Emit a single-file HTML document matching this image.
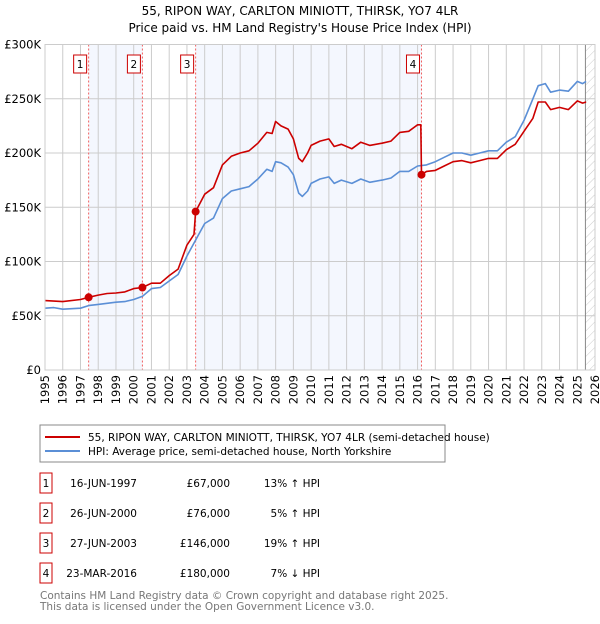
<!DOCTYPE html>
<html><head><meta charset="utf-8"><style>
body{margin:0;background:#fff;width:600px;height:620px;overflow:hidden;font-family:"DejaVu Sans","Liberation Sans",sans-serif;}
svg text{font-family:"DejaVu Sans","Liberation Sans",sans-serif;}
</style></head><body>
<svg id="c" width="600" height="620" xmlns="http://www.w3.org/2000/svg">
<defs><pattern id="hatch" width="6" height="6" patternUnits="userSpaceOnUse" patternTransform="rotate(45)"><line x1="0" y1="0" x2="0" y2="6" stroke="#ccc" stroke-width="1"/></pattern></defs>
<text x="300" y="15" text-anchor="middle" font-size="12">55, RIPON WAY, CARLTON MINIOTT, THIRSK, YO7 4LR</text>
<text x="300" y="32" text-anchor="middle" font-size="12">Price paid vs. HM Land Registry's House Price Index (HPI)</text>
<g id="plot"></g>
<rect x="40" y="425" width="405" height="37" fill="#fff" stroke="#888"/>
<line x1="45" y1="437" x2="80" y2="437" stroke="#cc0000" stroke-width="2"/>
<text x="88" y="441" font-size="10.5">55, RIPON WAY, CARLTON MINIOTT, THIRSK, YO7 4LR (semi-detached house)</text>
<line x1="45" y1="451" x2="80" y2="451" stroke="#5b8fd6" stroke-width="2"/>
<text x="88" y="455" font-size="10.5">HPI: Average price, semi-detached house, North Yorkshire</text>
<g id="table" font-size="10.5"></g>
<text x="40" y="599" font-size="10.5" fill="#777">Contains HM Land Registry data © Crown copyright and database right 2025.</text>
<text x="40" y="610" font-size="10.5" fill="#777">This data is licensed under the Open Government Licence v3.0.</text>
</svg>
<script>
const hpiYears=[1995,1995.5,1996,1996.5,1997,1997.5,1998,1998.5,1999,1999.5,2000,2000.5,2001,2001.5,2002,2002.5,2003,2003.5,2004,2004.5,2005,2005.5,2006,2006.5,2007,2007.5,2007.8,2008,2008.3,2008.7,2009,2009.3,2009.5,2009.8,2010,2010.5,2011,2011.3,2011.7,2012.3,2012.8,2013.3,2014,2014.5,2015,2015.5,2016,2016.5,2017,2017.5,2018,2018.5,2019,2019.5,2020,2020.5,2021,2021.5,2022,2022.5,2022.8,2023.2,2023.5,2024,2024.5,2025,2025.3,2025.5];
const hpiValues=[57,57.5,56,56.5,57,59.5,60.5,61.5,62.5,63,65,68,75,76,82,88,105,120,135,140,158,165,167,169,176,185,183,192,191,187,180,163,160,165,172,176,178,172,175,172,176,173,175,177,183,183,188,189,192,196,200,200,198,200,202,202,210,215,230,250,262,264,256,258,257,266,264,266];
const priceYears=[1995,1996,1997,1997.46,1998,1998.5,1999,1999.5,2000,2000.49,2001,2001.5,2002,2002.5,2003,2003.4,2003.49,2004,2004.5,2005,2005.5,2006,2006.5,2007,2007.5,2007.8,2008,2008.3,2008.7,2009,2009.3,2009.5,2009.8,2010,2010.5,2011,2011.3,2011.7,2012.3,2012.8,2013.3,2014,2014.5,2015,2015.5,2016,2016.18,2016.22,2016.5,2017,2017.5,2018,2018.5,2019,2019.5,2020,2020.5,2021,2021.5,2022,2022.5,2022.8,2023.2,2023.5,2024,2024.5,2025,2025.3,2025.5];
const priceValues=[64,63,65,67,69,70.5,71,72,75,76,80,80,87,93,115,125,146,162,168,189,197,200,202,209,219,218,229,225,222,213,195,192,200,207,211,213,206,208,204,210,207,209,211,219,220,226,226,180,183,184,188,192,193,191,193,195,195,203,208,220,232,247,247,240,242,240,248,246,247];
const saleLabels=["1","2","3","4"];
const saleYears=[1997.46,2000.49,2003.49,2016.22];
const saleValues=[67,76,146,180];
const saleDates=["16-JUN-1997","26-JUN-2000","27-JUN-2003","23-MAR-2016"];
const salePrices=["£67,000","£76,000","£146,000","£180,000"];
const saleDiffs=["13% ↑ HPI","5% ↑ HPI","19% ↑ HPI","7% ↓ HPI"];
const yTicks=[0,50,100,150,200,250,300];
const yTickLabels=["£0","£50K","£100K","£150K","£200K","£250K","£300K"];
const xTicks=[];for(let y=1995;y<=2026;y++)xTicks.push(y);
const L=45,R=595,T=44.5,B=370;
const xs=y=>L+(y-1995)/31*(R-L);
const ys=v=>B-v/300*(B-T);
const NS="http://www.w3.org/2000/svg";
const g=document.getElementById('plot');
function mk(tag,attrs,parent){const e=document.createElementNS(NS,tag);for(const k in attrs)e.setAttribute(k,attrs[k]);(parent||g).appendChild(e);return e;}
let e;
e=mk('rect',{x:L,y:T,width:R-L,height:B-T,fill:'#fff'});


const bands=[[saleYears[0],saleYears[1]],[saleYears[2],saleYears[3]]];
bands.forEach(b=>{e=mk('rect',{x:xs(b[0]),y:T,width:xs(b[1])-xs(b[0]),height:B-T,fill:'#f4f7fe'});

});
e=mk('rect',{x:xs(2025.46),y:T,width:R-xs(2025.46),height:B-T,fill:'url(#hatch)'});


xTicks.forEach(y=>{e=mk('line',{x1:xs(y),x2:xs(y),y1:T,y2:B,stroke:'#ccc','stroke-width':1});


e=mk('text',{x:0,y:0,'font-size':11.5,transform:`translate(${xs(y)+4},${B+5}) rotate(-90)`,'text-anchor':'end'});
e.textContent=y;

});
yTicks.forEach((v,i)=>{e=mk('line',{x1:L,x2:R,y1:ys(v),y2:ys(v),stroke:'#ccc','stroke-width':1});


e=mk('text',{x:L-4,y:ys(v)+4,'font-size':11.5,'text-anchor':'end'});
e.textContent=yTickLabels[i];

});
e=mk('line',{x1:xs(2025.46),x2:xs(2025.46),y1:T,y2:B,stroke:'#888','stroke-width':1});


saleYears.forEach((y,i)=>{e=mk('line',{x1:xs(y),x2:xs(y),y1:T,y2:B,stroke:'#f06060','stroke-width':1,'stroke-dasharray':'2,2'});

});
function path(xsA,vs,col,name){let d=xsA.map((y,i)=>(i?'L':'M')+xs(y).toFixed(1)+','+ys(vs[i]).toFixed(1)).join('');
const p=mk('path',{d:d,fill:'none',stroke:col,'stroke-width':1.6,'stroke-linejoin':'round'});

}
path(hpiYears,hpiValues,'#5b8fd6','hpi-line');
path(priceYears,priceValues,'#cc0000','price-line');
saleYears.forEach((y,i)=>{e=mk('circle',{cx:xs(y),cy:ys(saleValues[i]),r:4,fill:'#cc0000'});


e=mk('rect',{x:xs(y)-15,y:55,width:13,height:18,fill:'#fff',stroke:'#cc0000'});


e=mk('text',{x:xs(y)-8.5,y:68,'font-size':10.5,'text-anchor':'middle'});
e.textContent=saleLabels[i];

});
e=mk('rect',{x:L,y:T,width:R-L,height:B-T,fill:'none',stroke:'#ccc'});


const tb=document.getElementById('table');
saleLabels.forEach((l,i)=>{const cy=483+30*i;
e=mk('rect',{x:40,y:cy-10,width:12,height:20,fill:'#fff',stroke:'#cc0000'},tb);


e=mk('text',{x:46,y:cy+4,'text-anchor':'middle'},tb);e.textContent=l;


e=mk('text',{x:137,y:cy+4,'text-anchor':'end'},tb);e.textContent=saleDates[i];


e=mk('text',{x:230,y:cy+4,'text-anchor':'end'},tb);e.textContent=salePrices[i];


e=mk('text',{x:320,y:cy+4,'text-anchor':'end'},tb);e.textContent=saleDiffs[i];

});
</script>
</body></html>
